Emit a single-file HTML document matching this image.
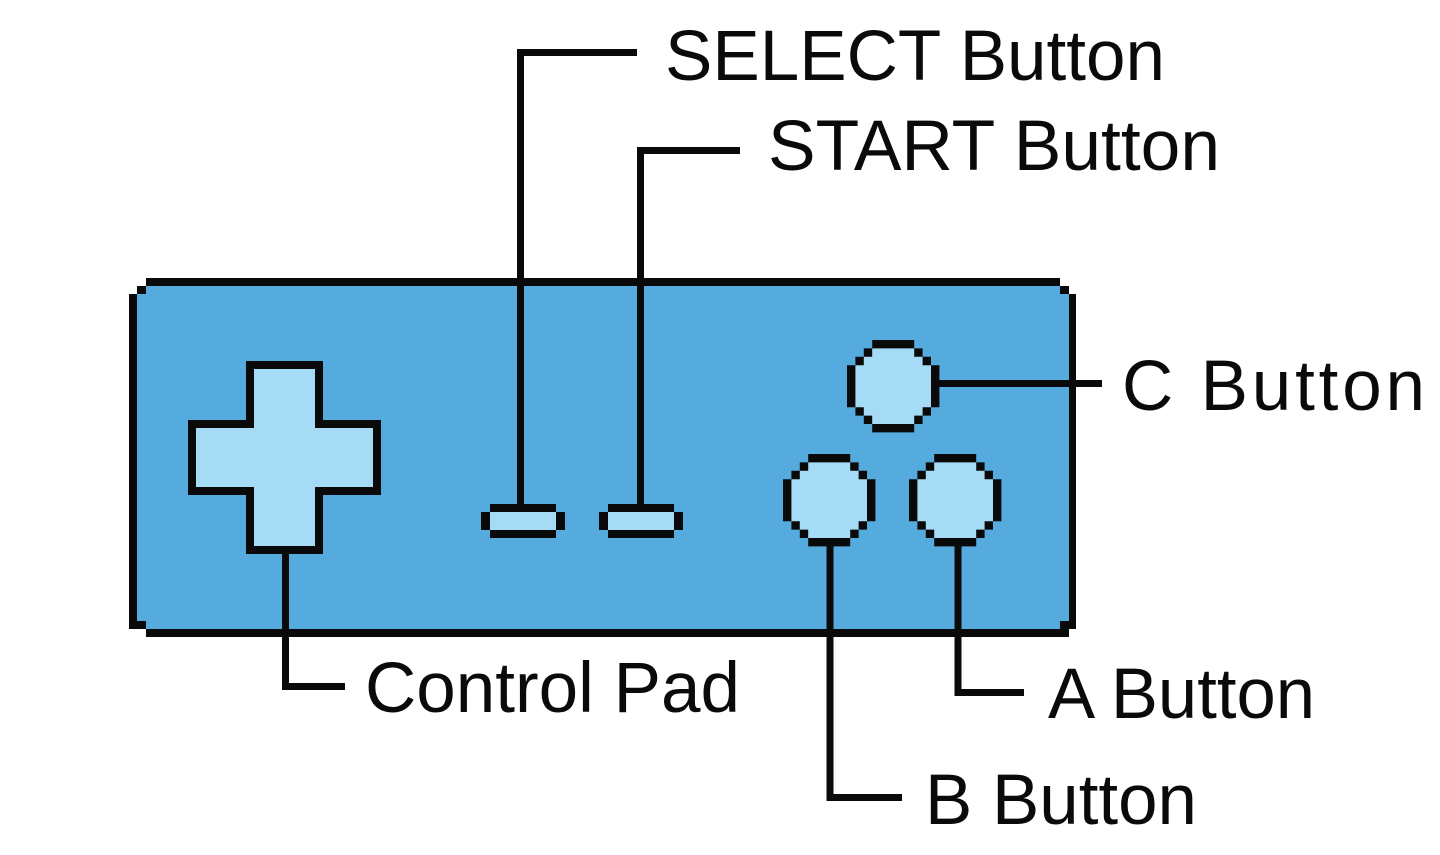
<!DOCTYPE html>
<html><head><style>html,body{margin:0;padding:0;background:#fff;width:1440px;height:855px;overflow:hidden}</style></head>
<body>
<svg width="1440" height="855" viewBox="0 0 1440 855" xmlns="http://www.w3.org/2000/svg">
<defs>
<g id="btn">
<!-- 11x11 grid pixel circle, unit 8.4 -->
<path fill="#0a0a0a" d="M25.2 0H67.2V8.4H75.6V16.8H84V25.2H92.4V67.2H84V75.6H75.6V84H67.2V92.4H25.2V84H16.8V75.6H8.4V67.2H0V25.2H8.4V16.8H16.8V8.4H25.2Z"/>
<path fill="#a6dbf5" d="M25.2 8.4H67.2V16.8H75.6V25.2H84V67.2H75.6V75.6H67.2V84H25.2V75.6H16.8V67.2H8.4V25.2H16.8V16.8H25.2Z"/>
</g>
<g id="sb">
<rect x="9" y="0" width="66" height="34" fill="#0a0a0a"/>
<rect x="0" y="8" width="84" height="18" fill="#0a0a0a"/>
<rect x="9" y="8" width="66" height="18" fill="#a6dbf5"/>
</g>
</defs>
<!-- body -->
<path fill="#0a0a0a" d="M146 278H1060V286H1069V294H1076V629H1069V637H146V629H137V629H129V294H137V286H146Z"/>
<path fill="#0a0a0a" d="M137 286H146V294H137Z M1060 286H1069V294H1060Z M137 621H146V629H137Z M1060 621H1069V629H1060Z"/>
<path fill="#55aade" d="M146 286H1060V294H1069V621H1060V629H146V621H137V294H146Z"/>
<!-- dpad -->
<path fill="#0a0a0a" d="M246 361H323V420H381V495H323V554H246V495H188V420H246Z"/>
<path fill="#a6dbf5" d="M254 369H315V428H373V487H315V546H254V487H196V428H254Z"/>
<!-- select/start -->
<use href="#sb" x="481" y="504"/>
<use href="#sb" x="599" y="504"/>
<!-- buttons -->
<use href="#btn" x="847" y="340"/>
<use href="#btn" x="783" y="454"/>
<use href="#btn" x="909" y="454"/>
<!-- leader lines -->
<g stroke="#0a0a0a" stroke-width="7" fill="none" stroke-linecap="butt">
<path d="M520.5 505V52.5H637"/>
<path d="M640.5 505V150.5H740"/>
<path d="M937 383.5H1102"/>
<path d="M285.5 553V686.5H345"/>
<path d="M830 545V797.5H902"/>
<path d="M958 545V692.5H1024"/>
</g>
<g font-family="Liberation Sans, Arial, sans-serif" font-size="71" fill="#0a0a0a">
<text x="665" y="80" textLength="500" lengthAdjust="spacingAndGlyphs">SELECT Button</text>
<text x="768" y="170" textLength="452" lengthAdjust="spacingAndGlyphs">START Button</text>
<text x="1122" y="410" textLength="303" lengthAdjust="spacing">C Button</text>
<text x="365" y="712" textLength="375" lengthAdjust="spacingAndGlyphs">Control Pad</text>
<text x="1048" y="718" textLength="267" lengthAdjust="spacingAndGlyphs">A Button</text>
<text x="925" y="824" textLength="272" lengthAdjust="spacingAndGlyphs">B Button</text>
</g>
</svg>
</body></html>
